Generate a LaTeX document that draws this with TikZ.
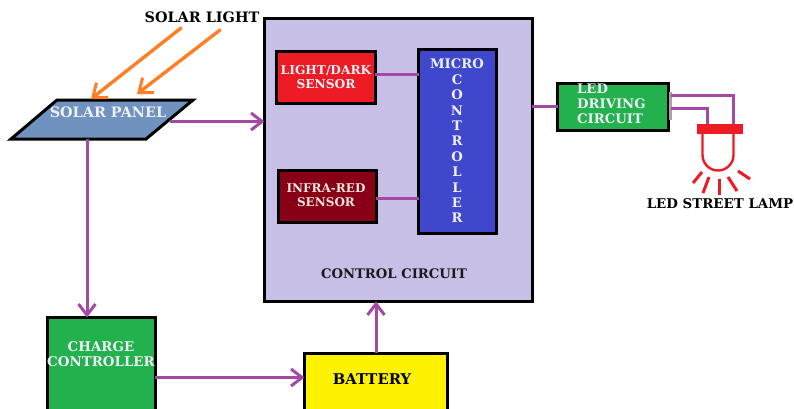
\documentclass[tikz,border=0pt]{standalone}
\usepackage{fontspec}
\setmainfont{DejaVu Serif}
\usetikzlibrary{arrows.meta}
\definecolor{lilac}{HTML}{C8BFE7}
\definecolor{pred}{HTML}{ED1C24}
\definecolor{pdark}{HTML}{880015}
\definecolor{pblue}{HTML}{3F48CC}
\definecolor{pgreen}{HTML}{22B14C}
\definecolor{pyellow}{HTML}{FFF200}
\definecolor{ppanel}{HTML}{7092BE}
\definecolor{ppurple}{HTML}{A349A4}
\definecolor{porange}{HTML}{FF7F27}
\definecolor{ptext}{HTML}{EEF0F8}
\tikzset{
  blockbox/.style={draw=black,line width=3pt,anchor=north west,inner sep=0pt,outer sep=0pt,align=center,text=ptext},
  lbl/.style={font=\bfseries\fontsize{13.2}{14}\selectfont,inner sep=0pt,align=center},
  wire/.style={draw=ppurple,line width=3pt},
  thinwire/.style={draw=ppurple,line width=3pt},
  arrowwire/.style={wire,-{Straight Barb[length=11pt,width=17pt,line width=3pt]}},
  sunray/.style={draw=porange,line width=3.4pt,line cap=round,-{Straight Barb[length=12pt,width=19pt,line width=3pt]}},
  ray/.style={draw=pred,line width=3pt}
}
\begin{document}
\begin{tikzpicture}[x=1pt,y=-1pt]
\useasboundingbox (0,0) rectangle (794,408);
% blocks
\node[blockbox,fill=lilac,minimum width=268pt,minimum height=283pt] (control) at (264.5,18.5) {};
\node[lbl,text=black!90] (controllabel) at (394,274) {CONTROL CIRCUIT};
\node[blockbox,fill=pred,minimum width=99pt,minimum height=52pt] (light) at (276.5,51.5) {};
\node[lbl,text=ptext,font=\bfseries\fontsize{12.2}{14}\selectfont] (lighttext) at (326,77) {LIGHT/DARK\\SENSOR};
\node[blockbox,fill=pdark,minimum width=98pt,minimum height=52pt] (infra) at (278.5,170.5) {};
\node[lbl,text=ptext!90!orange,font=\bfseries\fontsize{12}{14}\selectfont] (infratext) at (326,195) {INFRA-RED\\SENSOR};
\node[blockbox,fill=pblue,minimum width=78pt,minimum height=184pt] (micro) at (418.5,49.5) {};
\node[lbl,text=ptext,font=\bfseries\fontsize{13.2}{15.4}\selectfont] (microtext) at (457,141) {MICRO\\C\\O\\N\\T\\R\\O\\L\\L\\E\\R};
\node[blockbox,fill=pgreen,minimum width=111pt,minimum height=47pt] (driver) at (557.5,83.5) {};
\node[lbl,text=ptext,align=left,font=\bfseries\fontsize{13.2}{15}\selectfont,anchor=west] (drivertext) at (577,104) {LED\\DRIVING\\CIRCUIT};
\node[fill=gray!70,minimum width=3pt,minimum height=28pt,inner sep=0pt,outer sep=0pt,anchor=west] (jack) at (669,106) {};
\draw[draw=black,fill=ppanel,line width=3pt,line join=miter] (11,139) -- (57,100) -- (193,100) -- (146,139) -- cycle;
\coordinate (panelE) at (170,121.5);
\coordinate (panelS) at (87,139);
\node[lbl,text=ptext,font=\bfseries\fontsize{14.4}{14}\selectfont] (paneltext) at (108,112) {SOLAR PANEL};
\node[lbl,text=black,font=\bfseries\fontsize{14.4}{14}\selectfont] (solartext) at (202,17) {SOLAR LIGHT};
\node[blockbox,fill=pgreen,minimum width=108pt,minimum height=120pt] (charge) at (47.5,317.5) {};
\node[lbl,text=ptext,font=\bfseries\fontsize{13.4}{15}\selectfont] (chargetext) at (101,354) {CHARGE\\CONTROLLER};
\node[blockbox,fill=pyellow,minimum width=143pt,minimum height=90pt] (battery) at (304.5,353.5) {};
\node[lbl,text=black,font=\bfseries\fontsize{14.8}{15}\selectfont] (batterytext) at (372,379) {BATTERY};
\node[lbl,text=black,font=\bfseries\fontsize{13.4}{15}\selectfont] (lamptext) at (720,204) {LED STREET LAMP};
% lamp
\node[fill=pred,minimum width=46pt,minimum height=10pt,inner sep=0pt,outer sep=0pt] (lampbar) at (720,129) {};
\coordinate (bl) at (702.5,134);
\coordinate (br) at (733.5,134);
\draw[draw=pred,line width=2.4pt] (bl) -- (702.5,155) arc[start angle=180,end angle=360,radius=15.5pt] -- (br);
\draw[ray] (693,183) -- (702,172);
\draw[ray] (703,193) -- (709,177);
\draw[ray] (719,195) -- (719,179);
\draw[ray] (737,191) -- (728,177);
\draw[ray] (750,179) -- (738,171);
% sun rays
\coordinate (sun1) at (181,28);
\coordinate (sun2) at (220,30);
\coordinate (hit1) at (91,99);
\coordinate (hit2) at (137,94);
\draw[sunray] (sun1) -- (hit1);
\draw[sunray] (sun2) -- (hit2);
% connectors
\draw[arrowwire] (panelE) -- (panelE -| control.west);
\draw[arrowwire] (panelS) -- (panelS |- charge.north);
\coordinate (cb) at (155,377.5);
\draw[arrowwire] (cb) -- (cb -| battery.west);
\coordinate (bc) at (376,353);
\draw[arrowwire] (bc) -- (bc |- control.south);
\coordinate (ml) at (375,74.5);
\draw[thinwire] (ml) -- (ml -| micro.west);
\coordinate (mi) at (376,198.5);
\draw[thinwire] (mi) -- (mi -| micro.west);
\coordinate (cd) at (532,106.5);
\draw[thinwire] (cd) -- (cd -| driver.west);
\coordinate (j1) at (671,95.5);
\coordinate (t1) at (733,124);
\coordinate (j2) at (671,108.5);
\coordinate (t2) at (707,124);
\draw[thinwire] (j1) -| (t1);
\draw[thinwire] (j2) -| (t2);
\end{tikzpicture}
\end{document}
